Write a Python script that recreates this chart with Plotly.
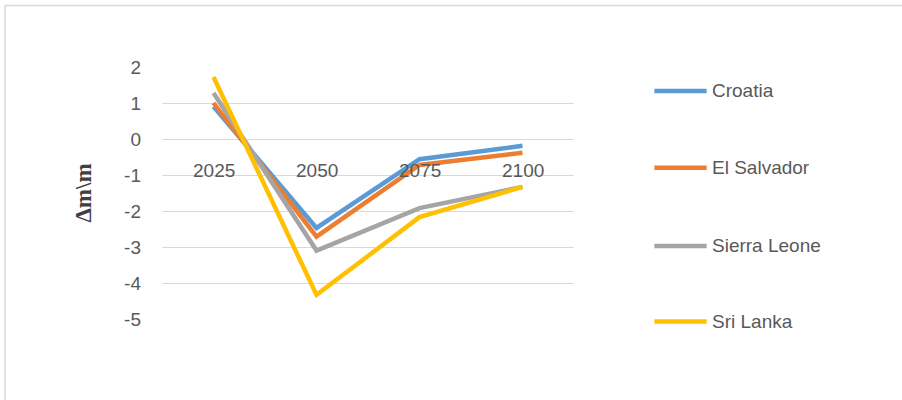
import plotly.graph_objects as go

# Projected change by year for each country
years = ["2025", "2050", "2075", "2100"]
croatia = [0.90, -2.47, -0.56, -0.19]
el_salvador = [1.00, -2.71, -0.72, -0.38]
sierra_leone = [1.28, -3.10, -1.92, -1.33]
sri_lanka = [1.72, -4.33, -2.17, -1.33]

series = [
    ("Croatia", croatia, "#5B9BD5"),
    ("El Salvador", el_salvador, "#ED7D31"),
    ("Sierra Leone", sierra_leone, "#A5A5A5"),
    ("Sri Lanka", sri_lanka, "#FFC000"),
]

y_ticks = [2, 1, 0, -1, -2, -3, -4, -5]
y_tick_text = [str(v) for v in y_ticks]

FONT = "Liberation Sans"
TEXT_COLOR = "#595959"

fig = go.Figure()
for name, values, color in series:
    fig.add_trace(go.Scatter(
        x=list(range(len(years))), y=values, name=name, mode="lines",
        line=dict(color=color, width=4.5),
        showlegend=False,
    ))

# Category labels sit just under the zero line
annotations = []
for i, yr in enumerate(years):
    annotations.append(dict(
        x=i, y=0, xref="x", yref="y", text=yr, showarrow=False,
        yshift=-31, font=dict(family=FONT, size=19, color=TEXT_COLOR),
    ))

# Legend drawn on the right: short line + label per series
shapes = []
legend_rows = [0.905, 0.600, 0.290, -0.010]
for (name, values, color), ly in zip(series, legend_rows):
    shapes.append(dict(
        type="line", xref="paper", yref="paper",
        x0=1.195, x1=1.322, y0=ly, y1=ly,
        line=dict(color=color, width=4.5),
    ))
    annotations.append(dict(
        x=1.330, y=ly, xref="paper", yref="paper", text=name,
        showarrow=False, xanchor="left", yanchor="middle",
        font=dict(family=FONT, size=19, color=TEXT_COLOR),
    ))

# Outer chart frame
shapes.append(dict(
    type="rect", xref="paper", yref="paper",
    x0=-0.381, x1=1.82, y0=-0.40, y1=1.244,
    line=dict(color="#D9D9D9", width=1.5), layer="below",
))

fig.update_layout(
    width=902, height=400,
    margin=dict(l=162, r=328, t=67, b=81),
    plot_bgcolor="white", paper_bgcolor="white",
    xaxis=dict(
        showticklabels=False, showgrid=False,
        zeroline=False, showline=False, range=[-0.5, 3.5],
    ),
    yaxis=dict(
        range=[-5, 2], tickvals=y_ticks, ticktext=y_tick_text, showgrid=True,
        gridcolor="#D9D9D9", gridwidth=1.2, zeroline=False,
        showline=False, ticklabelstandoff=20,
        tickfont=dict(family=FONT, size=19, color=TEXT_COLOR),
        title=dict(
            text="<b>Δm\\m</b>", standoff=26,
            font=dict(family="Liberation Serif", size=23, color="#404040"),
        ),
    ),
    shapes=shapes,
    annotations=annotations,
)

fig.write_html("out.html")
